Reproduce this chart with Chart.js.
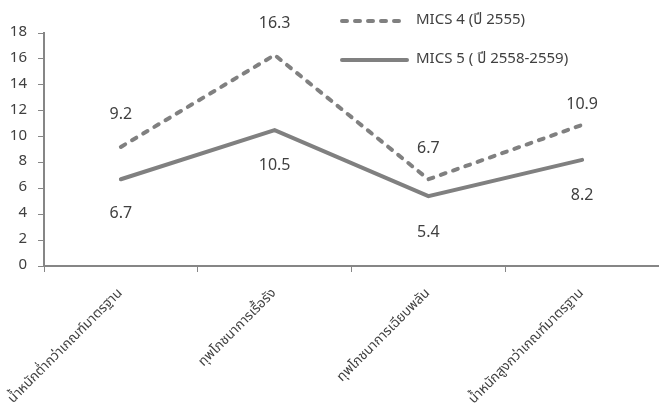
<!DOCTYPE html>
<html>
<head>
<meta charset="utf-8">
<script src="https://cdn.jsdelivr.net/npm/chart.js@4"></script>
<style>
html,body{margin:0;padding:0;background:#fff;}
#wrap{width:659px;height:416px;position:relative;}
</style>
</head>
<body>
<div id="wrap"><canvas id="c"></canvas></div>
<script>
const categories = ["น้ำหนักต่ำกว่าเกณฑ์มาตรฐาน", "ทุพโภชนาการเรื้อรัง", "ทุพโภชนาการเฉียบพลัน", "น้ำหนักสูงกว่าเกณฑ์มาตรฐาน"];
const mics4 = [9.2, 16.3, 6.7, 10.9];
const mics5 = [6.7, 10.5, 5.4, 8.2];
const seriesNames = ["MICS 4 (ปี 2555)", "MICS 5 ( ปี 2558-2559)"];
const yTicks = [0, 2, 4, 6, 8, 10, 12, 14, 16, 18];

const FONT = "'Noto Sans Thai','Leelawadee UI','Noto Sans','DejaVu Sans',sans-serif";
const GRAY = '#808080';
const TEXT = '#404040';

const labelPlugin = {
  id: 'valueLabels',
  afterDatasetsDraw(chart, args, opts) {
    const ctx = chart.ctx;
    ctx.save();
    ctx.font = '16px ' + FONT;
    ctx.fillStyle = TEXT;
    ctx.textAlign = 'center';
    ctx.textBaseline = 'middle';
    chart.data.datasets.forEach((ds, di) => {
      const meta = chart.getDatasetMeta(di);
      meta.data.forEach((pt, i) => {
        const off = opts.offsets[di][i];
        ctx.fillText(ds.data[i].toFixed(1), pt.x, pt.y + off);
      });
    });
    ctx.restore();
  }
};

const legendPlugin = {
  id: 'customLegend',
  afterDraw(chart) {
    const ctx = chart.ctx;
    ctx.save();
    const rows = [{y: 21, dash: [5, 8]}, {y: 60, dash: []}];
    rows.forEach((r, i) => {
      ctx.strokeStyle = GRAY;
      ctx.lineWidth = 4;
      ctx.lineCap = 'round';
      ctx.setLineDash(r.dash);
      ctx.beginPath();
      ctx.moveTo(342, r.y);
      ctx.lineTo(407, r.y);
      ctx.stroke();
      ctx.setLineDash([]);
      ctx.font = '15px ' + FONT;
      ctx.fillStyle = TEXT;
      ctx.textAlign = 'left';
      ctx.textBaseline = 'middle';
      ctx.fillText(seriesNames[i], 416, r.y);
    });
    ctx.restore();
  }
};

new Chart(document.getElementById('c'), {
  type: 'line',
  data: {
    labels: categories,
    datasets: [
      {label: seriesNames[0], data: mics4, borderColor: GRAY, borderWidth: 4, borderDash: [5, 8], borderCapStyle: 'round', pointRadius: 0, tension: 0, fill: false},
      {label: seriesNames[1], data: mics5, borderColor: GRAY, borderWidth: 4, borderCapStyle: 'round', pointRadius: 0, tension: 0, fill: false}
    ]
  },
  options: {
    responsive: true,
    maintainAspectRatio: false,
    animation: false,
    layout: {padding: {top: 33, right: 0, left: 0, bottom: 0}},
    plugins: {
      legend: {display: false},
      tooltip: {enabled: false},
      valueLabels: {offsets: [[-31, -30, -30, -19], [35, 37, 38, 37]]}
    },
    scales: {
      x: {
        type: 'category',
        offset: true,
        grid: {display: true, drawOnChartArea: false, drawTicks: true, tickLength: 6, offset: true, color: '#868686', lineWidth: 1},
        border: {display: true, color: '#868686', width: 2},
        ticks: {maxRotation: 45, minRotation: 45, autoSkip: false, color: TEXT, font: {family: FONT, size: 13.5}, padding: 14},
        afterFit(scale) { scale.height = 150; scale.paddingLeft = 0; scale.paddingRight = 0; }
      },
      y: {
        min: 0, max: 18,
        afterBuildTicks(scale) { scale.ticks = yTicks.map(v => ({value: v})); },
        grid: {display: true, drawOnChartArea: false, drawTicks: true, tickLength: 6, color: '#868686'},
        border: {display: true, color: '#868686', width: 2},
        ticks: {color: TEXT, font: {family: FONT, size: 15}, padding: 11},
        afterFit(scale) { scale.width = 44; }
      }
    }
  },
  plugins: [labelPlugin, legendPlugin]
});
</script>
</body>
</html>
